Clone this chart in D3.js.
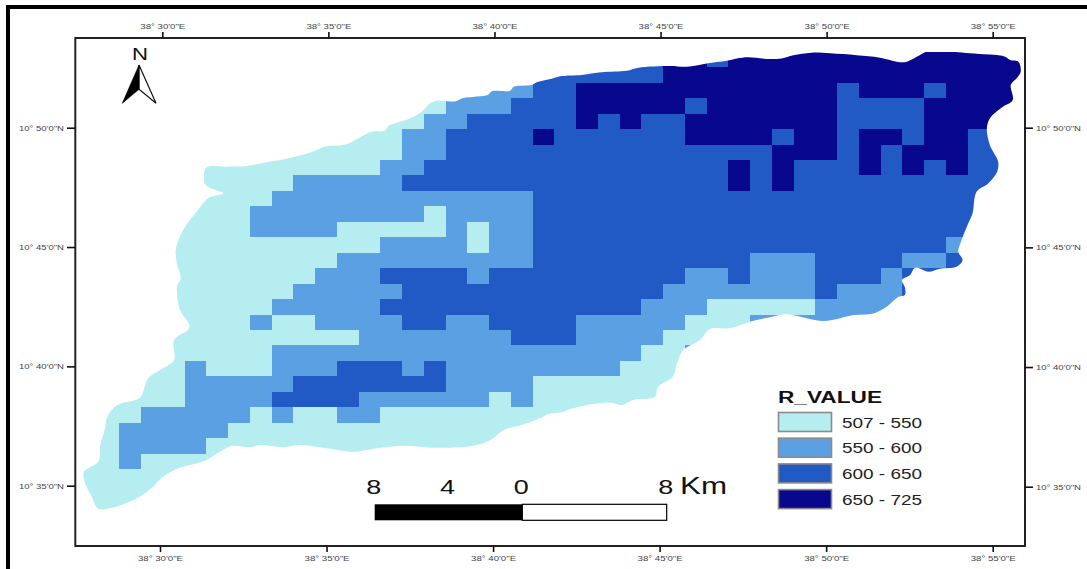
<!DOCTYPE html>
<html>
<head>
<meta charset="utf-8">
<script src="https://cdn.jsdelivr.net/npm/d3@7"></script>
<style>
  html, body { margin: 0; padding: 0; background: #fff; overflow: hidden; }
  svg { display: block; font-family: "Liberation Sans", Arial, sans-serif; }
</style>
</head>
<body>
<svg id="map" width="1087" height="569"></svg>
<script>
// graticule, in arc minutes past 38 deg E and 10 deg N
var lonTicks = [30, 35, 40, 45, 50, 55];
var latTicks = [50, 45, 40, 35];

// legend
var classLabels = ["507 - 550", "550 - 600", "600 - 650", "650 - 725"];
var classColors = ["#b5edf0", "#5ba0e3", "#225ac5", "#08088f"];

// scale bar
var barKm = [-8, -4, 0, 8];

// raster rows, top to bottom: "class:lastColumn" runs over 44 columns
var rasterRows = [
  "2:26 3:28 2:29 3:43",
  "2:26 3:43",
  "1:20 2:22 3:34 2:35 3:38 2:39 3:43",
  "0:16 1:19 2:22 3:27 2:28 3:34 2:38 3:43",
  "0:15 1:17 2:22 3:23 2:24 3:25 2:27 3:34 2:38 3:43",
  "0:14 1:16 2:20 3:21 2:27 3:31 2:32 3:34 2:35 3:37 2:38 3:40 2:43",
  "0:14 1:16 2:31 3:34 2:35 3:36 2:37 3:40 2:43",
  "0:13 1:15 2:29 3:30 2:31 3:32 2:35 3:36 2:37 3:38 2:39 3:40 2:43",
  "0:9 1:14 2:29 3:30 2:31 3:32 2:43",
  "0:8 1:20 2:43",
  "0:7 1:15 0:16 1:20 2:43",
  "0:7 1:11 0:16 1:17 0:18 1:20 2:43",
  "0:13 1:17 0:18 1:20 2:39 1:40 2:43",
  "0:11 1:20 2:30 1:33 2:37 1:39 2:43",
  "0:10 1:13 2:17 1:18 2:27 1:29 2:30 1:33 2:36 1:37 2:43",
  "0:9 1:14 2:26 1:33 2:34 1:37 2:43",
  "0:8 1:13 2:25 1:28 0:33 1:43",
  "0:7 1:8 0:10 1:14 2:16 1:18 2:22 1:27 0:30 1:43",
  "0:12 1:19 2:22 1:26 0:43",
  "0:8 1:25 0:27 1:28 0:43",
  "0:4 1:5 0:8 1:11 2:14 1:15 2:16 1:24 0:43",
  "0:4 1:9 2:16 1:20 0:43",
  "0:4 1:8 2:12 1:18 0:19 1:20 0:43",
  "0:2 1:7 0:8 1:9 0:11 1:13 0:43",
  "0:1 1:6 0:43",
  "0:1 1:5 0:43",
  "0:1 1:2 0:43",
  "0:43",
  "0:43",
  "0:43"
];

// basin outline, arc minutes
var basinLon = [31.36,31.96,32.57,33.17,33.82,34.57,34.92,35.58,35.98,36.33,36.73,36.83,37.48,37.84,38.09,38.29,38.84,39.09,39.84,39.95,
  40.50,40.62,41.15,41.30,41.80,42.05,42.66,43.26,44.01,44.36,45.32,45.82,46.42,47.02,47.33,47.67,48.33,48.68,49.03,49.58,
  50.14,50.94,51.64,52.24,52.45,52.75,53.10,53.45,54.35,55.41,55.56,55.81,55.88,55.76,55.58,55.64,55.31,54.95,54.86,54.95,
  55.20,55.17,54.90,54.55,54.43,54.30,54.10,54.00,54.13,53.95,53.45,53.10,52.70,52.55,52.30,52.39,52.39,52.19,51.84,51.44,
  50.84,50.44,49.93,49.43,48.83,48.33,47.83,47.12,46.52,46.22,45.72,45.54,45.40,44.96,44.86,44.21,43.86,43.56,43.01,42.40,
  42.00,41.65,41.40,40.85,40.30,39.99,39.49,38.69,37.89,37.39,36.48,35.83,34.98,34.17,33.67,32.97,32.67,32.11,31.76,31.36,
  31.06,30.46,30.01,29.75,29.25,28.50,28.10,27.90,27.67,27.67,28.10,28.15,28.30,28.35,28.60,28.80,29.35,29.60,30.05,30.38,
  30.38,30.81,30.84,30.56,30.46,30.48,30.58,30.46,30.43,30.51,30.71,31.06,31.41,31.86,31.56,31.31,31.28];
var basinLat = [48.34,48.37,48.40,48.55,48.72,49.00,49.21,49.31,49.60,49.83,49.87,50.07,50.39,50.67,51.02,51.13,51.10,51.24,51.38,51.52,
  51.55,51.72,51.79,51.90,52.07,52.16,52.21,52.32,52.38,52.51,52.58,52.55,52.69,52.80,52.90,52.95,52.87,52.90,53.03,53.14,
  53.11,53.03,52.93,52.74,52.76,52.97,53.21,53.22,53.11,52.97,52.83,52.76,52.34,52.07,51.79,51.16,50.85,50.39,49.97,49.28,
  48.58,48.16,47.67,47.32,46.42,46.00,45.30,44.81,44.46,44.18,44.10,43.97,44.14,43.84,43.63,43.33,43.00,42.92,42.51,42.23,
  42.16,42.03,41.91,42.03,42.19,42.07,41.92,41.61,41.58,41.12,40.70,40.21,39.58,39.16,38.74,38.61,38.40,38.49,38.44,38.26,
  38.08,38.02,37.84,37.56,37.35,37.00,36.72,36.61,36.63,36.69,36.59,36.44,36.59,36.72,36.63,36.72,36.63,36.68,36.44,36.10,
  35.96,35.72,35.36,34.98,34.49,34.10,34.06,34.56,35.26,35.61,36.03,36.65,37.42,37.84,38.33,38.47,38.70,39.51,39.93,40.28,
  41.12,41.56,41.74,42.37,43.21,43.42,43.70,44.33,44.88,45.30,45.86,46.49,47.05,47.26,47.42,47.64,48.02];

var svg = d3.select("#map");

// scales
var mapX = d3.scaleLinear().domain([30, 55]).range([161.5, 991.5]);
var mapY = d3.scaleLinear().domain([50, 35]).range([127.7, 486.2]);
var topX = d3.scaleLinear().domain([30, 55]).range([162.3, 992.7]);
var bottomX = d3.scaleLinear().domain([30, 55]).range([160, 992.7]);
var leftY = d3.scaleLinear().domain([50, 35]).range([127.7, 485.7]);
var rightY = d3.scaleLinear().domain([50, 35]).range([127.7, 486.7]);
var colX = d3.scaleLinear().domain([0, 44]).range([75.8, 1032.8]);
var rowY = d3.scaleLinear().domain([0, 30]).range([51.85, 515.35]);
var kmX = d3.scaleLinear().domain([-8, 0, 8]).range([374.7, 522.3, 666.7]);

// page border, only top and left are in the picture
svg.append("path")
  .attr("d", "M8,569V7H1087")
  .attr("fill", "none")
  .attr("stroke", "#000")
  .attr("stroke-width", 4);

// raster cells clipped to the basin
var outline = basinLon.map(function (d, i) {
  return [mapX(d), mapY(basinLat[i])];
});
svg.append("clipPath")
  .attr("id", "basin")
  .append("path")
  .attr("d", d3.line().curve(d3.curveCatmullRomClosed.alpha(0.5))(outline));

var runs = [];
rasterRows.forEach(function (row, r) {
  var start = 0;
  row.split(" ").forEach(function (run) {
    var parts = run.split(":");
    runs.push({ row: r, from: start, to: +parts[1] + 1, cls: +parts[0] });
    start = +parts[1] + 1;
  });
});

svg.append("g")
  .attr("clip-path", "url(#basin)")
  .selectAll("rect")
  .data(runs)
  .enter()
  .append("rect")
  .attr("shape-rendering", "crispEdges")
  .attr("x", function (d) { return colX(d.from); })
  .attr("y", function (d) { return rowY(d.row); })
  .attr("width", function (d) { return colX(d.to) - colX(d.from); })
  .attr("height", function (d) { return rowY(d.row + 1) - rowY(d.row); })
  .attr("fill", function (d) { return classColors[d.cls]; });

// neatline
svg.append("rect")
  .attr("x", 75.3)
  .attr("y", 38)
  .attr("width", 949.7)
  .attr("height", 508)
  .attr("fill", "none")
  .attr("stroke", "#222")
  .attr("stroke-width", 2);

// axes
function lonLabel(d) { return "38° " + d + "'0\"E"; }
function latLabel(d) { return "10° " + d + "'0\"N"; }

function drawAxis(axis, tx, ty) {
  var g = svg.append("g")
    .attr("transform", "translate(" + tx + "," + ty + ")")
    .call(axis);
  g.select(".domain").remove();
  g.selectAll("line").attr("stroke", "#111").attr("stroke-width", 1.6);
  g.selectAll("text")
    .attr("fill", "#444")
    .attr("font-size", 8)
    .attr("font-family", '"Liberation Sans", Arial, sans-serif')
    .attr("textLength", 45)
    .attr("lengthAdjust", "spacingAndGlyphs");
}

drawAxis(d3.axisTop(topX).tickValues(lonTicks).tickFormat(lonLabel).tickSize(6).tickPadding(3), 0, 38);
drawAxis(d3.axisBottom(bottomX).tickValues(lonTicks).tickFormat(lonLabel).tickSize(6).tickPadding(3), 0, 546);
drawAxis(d3.axisLeft(leftY).tickValues(latTicks).tickFormat(latLabel).tickSize(8).tickPadding(3), 75, 0);
drawAxis(d3.axisRight(rightY).tickValues(latTicks).tickFormat(latLabel).tickSize(8).tickPadding(3), 1025, 0);

// north arrow
svg.append("text")
  .attr("x", 140)
  .attr("y", 60)
  .attr("text-anchor", "middle")
  .attr("font-size", 17)
  .attr("textLength", 16)
  .attr("lengthAdjust", "spacingAndGlyphs")
  .attr("fill", "#111")
  .text("N");
svg.append("path")
  .attr("d", "M139,65L156,103.3L139,89.3Z")
  .attr("fill", "#fff")
  .attr("stroke", "#111")
  .attr("stroke-width", 1.2);
svg.append("path")
  .attr("d", "M139,65L122.3,103.3L139,89.3Z")
  .attr("fill", "#000")
  .attr("stroke", "#000")
  .attr("stroke-width", 0.6);

// scale bar
svg.append("rect")
  .attr("x", kmX(0))
  .attr("y", 504.3)
  .attr("width", kmX(8) - kmX(0))
  .attr("height", 16)
  .attr("fill", "#fff")
  .attr("stroke", "#000")
  .attr("stroke-width", 1.2);
svg.append("rect")
  .attr("x", kmX(-8))
  .attr("y", 504.3)
  .attr("width", kmX(0) - kmX(-8))
  .attr("height", 16)
  .attr("fill", "#000");
svg.selectAll(".barLabel")
  .data(barKm)
  .enter()
  .append("text")
  .attr("class", "barLabel")
  .attr("x", function (d) { return kmX(d) - 1; })
  .attr("y", 494)
  .attr("text-anchor", "middle")
  .attr("font-size", 19.5)
  .attr("textLength", 15)
  .attr("lengthAdjust", "spacingAndGlyphs")
  .attr("fill", "#111")
  .text(function (d) { return Math.abs(d); });
svg.append("text")
  .attr("x", 680)
  .attr("y", 494)
  .attr("font-size", 23)
  .attr("textLength", 47)
  .attr("lengthAdjust", "spacingAndGlyphs")
  .attr("fill", "#111")
  .text("Km");

// legend
svg.append("text")
  .attr("x", 778)
  .attr("y", 403)
  .attr("font-size", 16)
  .attr("font-weight", "bold")
  .attr("textLength", 104)
  .attr("lengthAdjust", "spacingAndGlyphs")
  .attr("fill", "#111")
  .text("R_VALUE");

var legendY = d3.scaleBand().domain(classLabels).range([412, 514.8]);

svg.selectAll(".swatch")
  .data(classLabels)
  .enter()
  .append("rect")
  .attr("class", "swatch")
  .attr("x", 778.5)
  .attr("y", function (d) { return legendY(d) + 0.5; })
  .attr("width", 53)
  .attr("height", 19)
  .attr("fill", function (d, i) { return classColors[i]; })
  .attr("stroke", "#8a8a8a")
  .attr("stroke-width", 1.6);

svg.selectAll(".legendLabel")
  .data(classLabels)
  .enter()
  .append("text")
  .attr("class", "legendLabel")
  .attr("x", 842)
  .attr("y", function (d) { return legendY(d) + 15.5; })
  .attr("font-size", 15)
  .attr("textLength", 80)
  .attr("lengthAdjust", "spacingAndGlyphs")
  .attr("fill", "#222")
  .text(function (d) { return d; });
</script>
</body>
</html>
